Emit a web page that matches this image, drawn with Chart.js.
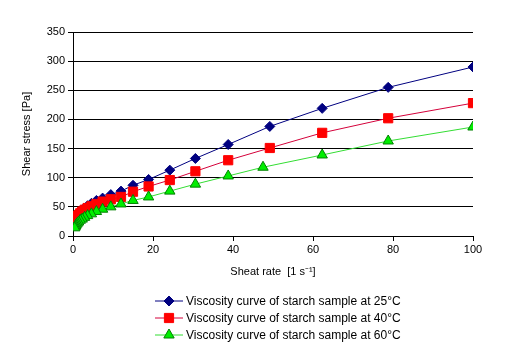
<!DOCTYPE html>
<html lang="en">
<head>
<meta charset="UTF-8">
<title>Viscosity curves of starch</title>
<script src="https://cdn.jsdelivr.net/npm/chart.js"></script>
<style>
  body { margin: 0; background: #fff; }
  #wrap { width: 529px; height: 360px; position: relative; }
</style>
</head>
<body>
<div id="wrap"><canvas id="chart"></canvas></div>
<script>
// shear rate [1/s]
const shearRate = [100, 78.8, 62.3, 49.2, 38.8, 30.6, 24.2, 18.9, 15.0, 12.0, 9.45, 7.4,
                   5.85, 4.6, 3.65, 2.9, 2.3, 1.8, 1.4, 1.1, 0.87, 0.69, 0.55, 0.43];
const shearRate60 = [100, 78.8, 62.3, 47.5, 38.8, 30.6, 24.2, 18.9, 15.0, 12.0, 9.45, 7.4,
                     5.85, 4.6, 3.65, 2.9, 2.3, 1.8, 1.4, 1.1, 0.87, 0.69, 0.55, 0.43];
// shear stress [Pa]
const stress25 = [290, 255, 219, 188, 157, 133, 113, 97, 87, 77, 71, 65,
                  61, 56, 52, 48, 45, 42, 39, 36, 33, 31, 29, 27];
const stress40 = [228, 202, 177, 151, 130, 111, 96, 85, 76, 67, 63, 59,
                  55, 51, 48, 45, 42, 39, 36, 34, 31, 29, 27, 25];
const stress60 = [187, 163, 139, 118, 103, 89, 77, 67, 61, 55, 50, 46,
                  42, 38, 35, 32, 29, 27, 24, 22, 20, 18, 16, 14];
const seriesLabels = [
  'Viscosity curve of starch sample at 25°C',
  'Viscosity curve of starch sample at 40°C',
  'Viscosity curve of starch sample at 60°C'
];
const yTicks = [0, 50, 100, 150, 200, 250, 300, 350];
const xTicks = [0, 20, 40, 60, 80, 100];

function pts(xs, ys) {
  return xs.map((x, i) => ({ x: x, y: ys[i] }));
}

const styles = [
  { line: '#000080', fill: '#000080', border: '#000080', shape: 'rectRot', r: 5 },
  { line: '#d4003a', fill: '#ff0000', border: '#ff0000', shape: 'rect', r: 6.5 },
  { line: '#33dd33', fill: '#00ee00', border: '#008000', shape: 'triangle', r: 6 }
];

const dataSets = [pts(shearRate, stress25), pts(shearRate, stress40), pts(shearRate60, stress60)];

function drawMarker(ctx, s, x, y) {
  ctx.save();
  ctx.fillStyle = s.fill;
  ctx.strokeStyle = s.border;
  ctx.lineWidth = 1;
  ctx.beginPath();
  if (s.shape === 'rectRot') {
    ctx.moveTo(x, y - s.r); ctx.lineTo(x + s.r, y); ctx.lineTo(x, y + s.r); ctx.lineTo(x - s.r, y);
  } else if (s.shape === 'rect') {
    const h = s.r * Math.SQRT1_2;
    ctx.rect(x - h, y - h, 2 * h, 2 * h);
  } else {
    ctx.moveTo(x, y - s.r);
    ctx.lineTo(x + s.r * 0.866, y + s.r / 2);
    ctx.lineTo(x - s.r * 0.866, y + s.r / 2);
  }
  ctx.closePath();
  ctx.fill();
  ctx.stroke();
  ctx.restore();
}

// legend with line + marker, like the spreadsheet one
const lineLegend = {
  id: 'lineLegend',
  afterDraw(chart) {
    const ctx = chart.ctx;
    ctx.save();
    ctx.font = '12px "Liberation Sans", Arial, sans-serif';
    ctx.textBaseline = 'middle';
    ctx.fillStyle = '#000';
    seriesLabels.forEach((label, i) => {
      const y = 301 + i * 17;
      const s = styles[i];
      ctx.strokeStyle = s.line;
      ctx.lineWidth = 1;
      ctx.beginPath();
      ctx.moveTo(155, y);
      ctx.lineTo(183, y);
      ctx.stroke();
      drawMarker(ctx, s, 169, y);
      ctx.fillStyle = '#000';
      ctx.fillText(label, 186, y + 1);
    });
    ctx.restore();
  }
};

new Chart(document.getElementById('chart'), {
  type: 'scatter',
  data: {
    datasets: dataSets.map((d, i) => ({
      label: seriesLabels[i],
      data: d,
      showLine: true,
      borderColor: styles[i].line,
      borderWidth: 1,
      tension: 0,
      pointStyle: styles[i].shape,
      pointRadius: styles[i].r,
      pointBackgroundColor: styles[i].fill,
      pointBorderColor: styles[i].border,
      pointBorderWidth: 1,
      order: 2 - i
    }))
  },
  options: {
    responsive: true,
    maintainAspectRatio: false,
    animation: false,
    layout: { padding: { top: 32, right: 56, left: 0, bottom: 0 } },
    plugins: { legend: { display: false }, tooltip: { enabled: false } },
    scales: {
      x: {
        type: 'linear',
        min: 0, max: 100,
        afterBuildTicks(scale) { scale.ticks = xTicks.map(v => ({ value: v })); },
        afterFit(scale) { scale.height = 124; },
        grid: { drawOnChartArea: false, drawTicks: true, tickLength: 5, color: '#000' },
        border: { color: '#000', width: 1 },
        ticks: { color: '#000', padding: 2, font: { family: '"Liberation Sans", Arial, sans-serif', size: 11 } },
        title: {
          display: true, text: 'Sheat rate  [1 s⁻¹]', color: '#000',
          font: { family: '"Liberation Sans", Arial, sans-serif', size: 11 },
          padding: { top: 0, bottom: 81 }
        }
      },
      y: {
        min: 0, max: 350,
        afterBuildTicks(scale) { scale.ticks = yTicks.map(v => ({ value: v })); },
        afterFit(scale) { scale.width = 73; },
        grid: { color: '#000', lineWidth: 1, tickLength: 5 },
        border: { color: '#000', width: 1 },
        ticks: { color: '#000', padding: 3, font: { family: '"Liberation Sans", Arial, sans-serif', size: 11 } },
        title: {
          display: true, text: 'Shear stress [Pa]', color: '#000',
          font: { family: '"Liberation Sans", Arial, sans-serif', size: 11 },
          padding: { top: 20, bottom: 0 }
        }
      }
    }
  },
  plugins: [lineLegend]
});
</script>
</body>
</html>
